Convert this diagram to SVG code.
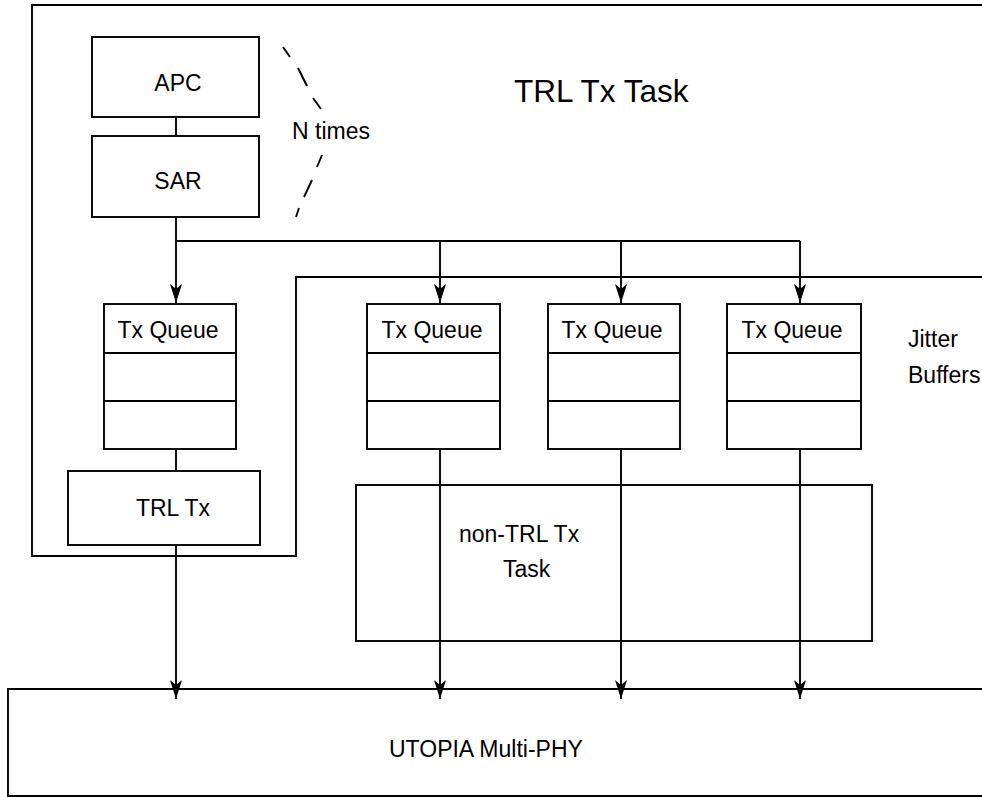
<svg xmlns="http://www.w3.org/2000/svg" width="982" height="797" viewBox="0 0 982 797">
<style>
  .b{fill:none;stroke:#000;stroke-width:1.9}
  .c{fill:none;stroke:#000;stroke-width:1.9}
  .t{font-family:"Liberation Sans",Arial,Helvetica,sans-serif;font-size:23px;fill:#000}
  .m{text-anchor:middle}
</style>
<defs>
  <marker id="ah" viewBox="-20 -7 21 14" refX="0" refY="0" markerWidth="21" markerHeight="14" markerUnits="userSpaceOnUse" orient="auto">
    <path d="M0,0 L-19,-6 L-14,0 L-19,6 Z" fill="#000"/>
  </marker>
</defs>
<rect width="982" height="797" fill="#fff"/>

<g id="trl-tx-task">
  <path class="b" d="M984,5 H32 V556 H296 V277 H984"/>
  <text class="t" x="514" y="102" style="font-size:31.5px">TRL Tx Task</text>
</g>

<g id="n-times">
  <g class="c">
    <line x1="283" y1="47" x2="290" y2="57"/>
    <line x1="298" y1="68" x2="307" y2="86"/>
    <line x1="313" y1="98" x2="321" y2="109"/>
    <line x1="322" y1="155" x2="317" y2="167"/>
    <line x1="312" y1="180" x2="304" y2="197"/>
    <line x1="299" y1="208" x2="296" y2="217"/>
  </g>
  <text class="t" x="292" y="139">N times</text>
</g>

<g id="apc">
  <rect class="b" x="92" y="37" width="167" height="80"/>
  <text class="t m" x="178" y="91">APC</text>
</g>

<g id="sar">
  <rect class="b" x="92" y="136" width="167" height="81"/>
  <text class="t m" x="178" y="189">SAR</text>
</g>

<g id="txq1">
  <rect class="b" x="104" y="304" width="132" height="145"/>
  <line class="b" x1="104" y1="353" x2="236" y2="353"/>
  <line class="b" x1="104" y1="401" x2="236" y2="401"/>
  <text class="t m" x="168" y="338">Tx Queue</text>
</g>

<g id="txq2">
  <rect class="b" x="367" y="304" width="133" height="145"/>
  <line class="b" x1="367" y1="353" x2="500" y2="353"/>
  <line class="b" x1="367" y1="401" x2="500" y2="401"/>
  <text class="t m" x="432" y="338">Tx Queue</text>
</g>

<g id="txq3">
  <rect class="b" x="548" y="304" width="132" height="145"/>
  <line class="b" x1="548" y1="353" x2="680" y2="353"/>
  <line class="b" x1="548" y1="401" x2="680" y2="401"/>
  <text class="t m" x="612" y="338">Tx Queue</text>
</g>

<g id="txq4">
  <rect class="b" x="727" y="304" width="134" height="145"/>
  <line class="b" x1="727" y1="353" x2="861" y2="353"/>
  <line class="b" x1="727" y1="401" x2="861" y2="401"/>
  <text class="t m" x="792" y="338">Tx Queue</text>
</g>

<g id="jitter-buffers">
  <text class="t" x="908" y="347">Jitter</text>
  <text class="t" x="908" y="383">Buffers</text>
</g>

<g id="trl-tx">
  <rect class="b" x="68" y="471" width="192" height="74"/>
  <text class="t m" x="173" y="516">TRL Tx</text>
</g>

<g id="non-trl-tx-task">
  <rect class="b" x="356" y="485" width="516" height="156"/>
  <text class="t" x="459" y="542">non-TRL Tx</text>
  <text class="t" x="503" y="577">Task</text>
</g>

<g id="utopia">
  <path class="b" d="M984,689 H8 V796 H984"/>
  <text class="t" x="389" y="757">UTOPIA Multi-PHY</text>
</g>

<g id="connectors" class="c">
  <line x1="176" y1="117" x2="176" y2="136"/>
  <line x1="176" y1="217" x2="176" y2="303" marker-end="url(#ah)"/>
  <polyline points="176,241 800,241"/>
  <line x1="440" y1="241" x2="440" y2="303" marker-end="url(#ah)"/>
  <line x1="621" y1="241" x2="621" y2="303" marker-end="url(#ah)"/>
  <line x1="800" y1="241" x2="800" y2="303" marker-end="url(#ah)"/>
  <line x1="176" y1="449" x2="176" y2="471"/>
  <line x1="176" y1="545" x2="176" y2="699" marker-end="url(#ah)"/>
  <line x1="440" y1="449" x2="440" y2="699" marker-end="url(#ah)"/>
  <line x1="621" y1="449" x2="621" y2="699" marker-end="url(#ah)"/>
  <line x1="800" y1="449" x2="800" y2="699" marker-end="url(#ah)"/>
</g>
</svg>
